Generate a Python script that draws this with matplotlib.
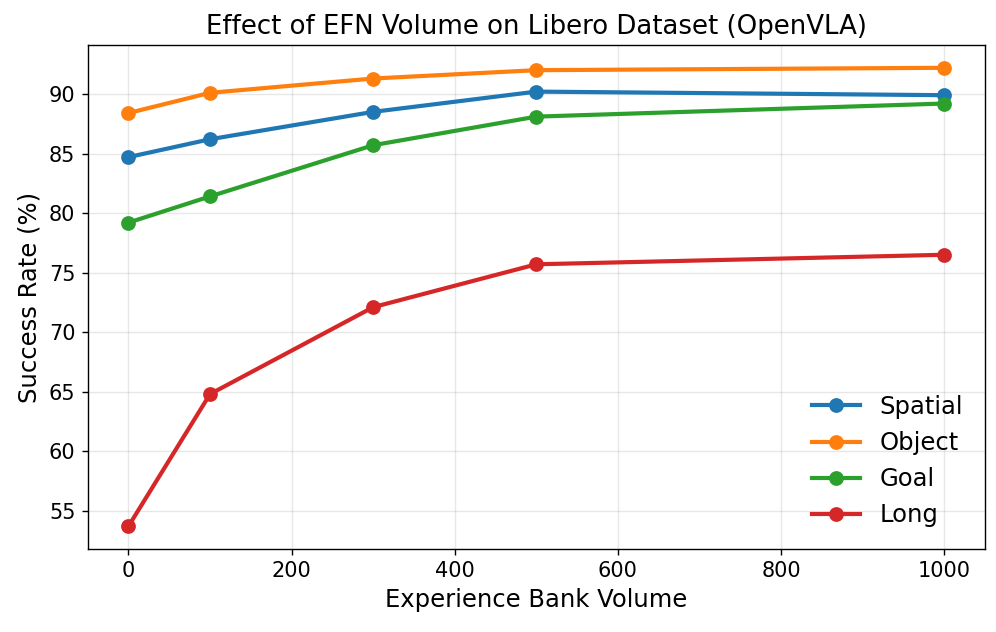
import matplotlib
matplotlib.use("Agg")
import matplotlib.pyplot as plt

volumes = [0, 100, 300, 500, 1000]
spatial = [84.7, 86.2, 88.5, 90.2, 89.9]
object_ = [88.4, 90.1, 91.3, 92.0, 92.2]
goal = [79.2, 81.4, 85.7, 88.1, 89.2]
long_ = [53.7, 64.8, 72.1, 75.7, 76.5]

series = [("Spatial", spatial), ("Object", object_), ("Goal", goal), ("Long", long_)]

fig, ax = plt.subplots(figsize=(996 / 125, 632 / 125), dpi=125)
fig.subplots_adjust(left=0.088, right=0.989, top=0.929, bottom=0.131)

for name, vals in series:
    ax.plot(volumes, vals, marker="o", linewidth=2.4, markersize=7.5, label=name)

ax.set_title("Effect of EFN Volume on Libero Dataset (OpenVLA)", fontsize=15)
ax.set_xlabel("Experience Bank Volume", fontsize=14)
ax.set_ylabel("Success Rate (%)", fontsize=14)
ax.tick_params(labelsize=12)
ax.grid(True, alpha=0.3)
ax.legend(loc="lower right", frameon=False, fontsize=14)

fig.savefig("out.png", dpi=125)
